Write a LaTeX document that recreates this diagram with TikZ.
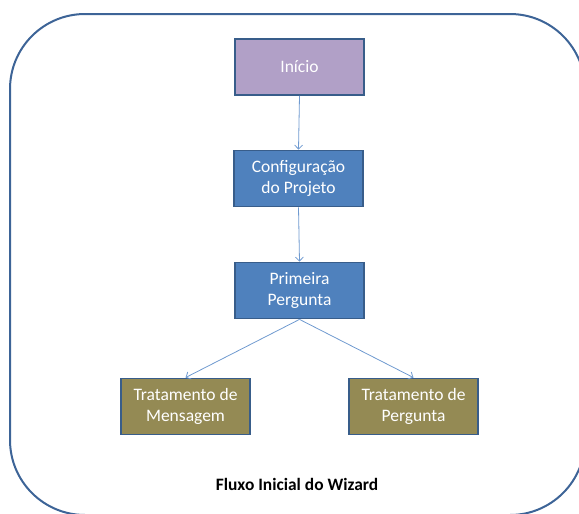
\documentclass[tikz,border=0pt]{standalone}
\usepackage{fontspec}
\setmainfont{Carlito}
\usetikzlibrary{arrows.meta}
\definecolor{frameblue}{HTML}{3D6497}
\definecolor{edgeblue}{HTML}{385D8A}
\definecolor{startfill}{HTML}{B1A0C7}
\definecolor{stepfill}{HTML}{4F81BD}
\definecolor{branchfill}{HTML}{948A54}
\definecolor{linkblue}{HTML}{6F9AD0}
\tikzset{
  box/.style={draw=edgeblue, line width=1.8pt, rectangle, minimum width=129pt,
    minimum height=56pt, inner sep=0pt, align=center, text=white,
    font=\fontsize{17.5}{21.3}\selectfont},
  startbox/.style={box, fill=startfill},
  stepbox/.style={box, fill=stepfill},
  branchbox/.style={box, fill=branchfill},
  link/.style={draw=linkblue, line width=0.8pt,
    -{Straight Barb[length=4pt, width=8pt, line width=0.8pt]}},
  frame/.style={draw=frameblue, line width=2pt, rounded corners=75pt}
}
\begin{document}
\begin{tikzpicture}[x=1pt, y=-1pt]
  \useasboundingbox (0,0) rectangle (579,514);
  \clip (0,0) rectangle (579,514);
  % outer panel
  \draw[frame] (10,14) rectangle (585,515);
  % flow steps
  \node[startbox]  (inicio)   at (299.5,67)  {Início};
  \node[stepbox]   (config)   at (298.5,178.5) {Configuração\\do Projeto};
  \node[stepbox]   (primeira) at (299.5,290.5) {Primeira\\Pergunta};
  \node[branchbox] (mensagem) at (185.5,406.5) {Tratamento de\\Mensagem};
  \node[branchbox] (pergunta) at (413.5,406.5) {Tratamento de\\Pergunta};
  % connectors
  \draw[link] (inicio.south) -- (config.north);
  \draw[link] (config.south) -- (primeira.north);
  \draw[link] (primeira.south) -- (mensagem.north);
  \draw[link] (primeira.south) -- (pergunta.north);
  % caption
  \node[font=\bfseries\fontsize{17.4}{21}\selectfont] (caption) at (297,484) {Fluxo Inicial do Wizard};
\end{tikzpicture}
\end{document}
